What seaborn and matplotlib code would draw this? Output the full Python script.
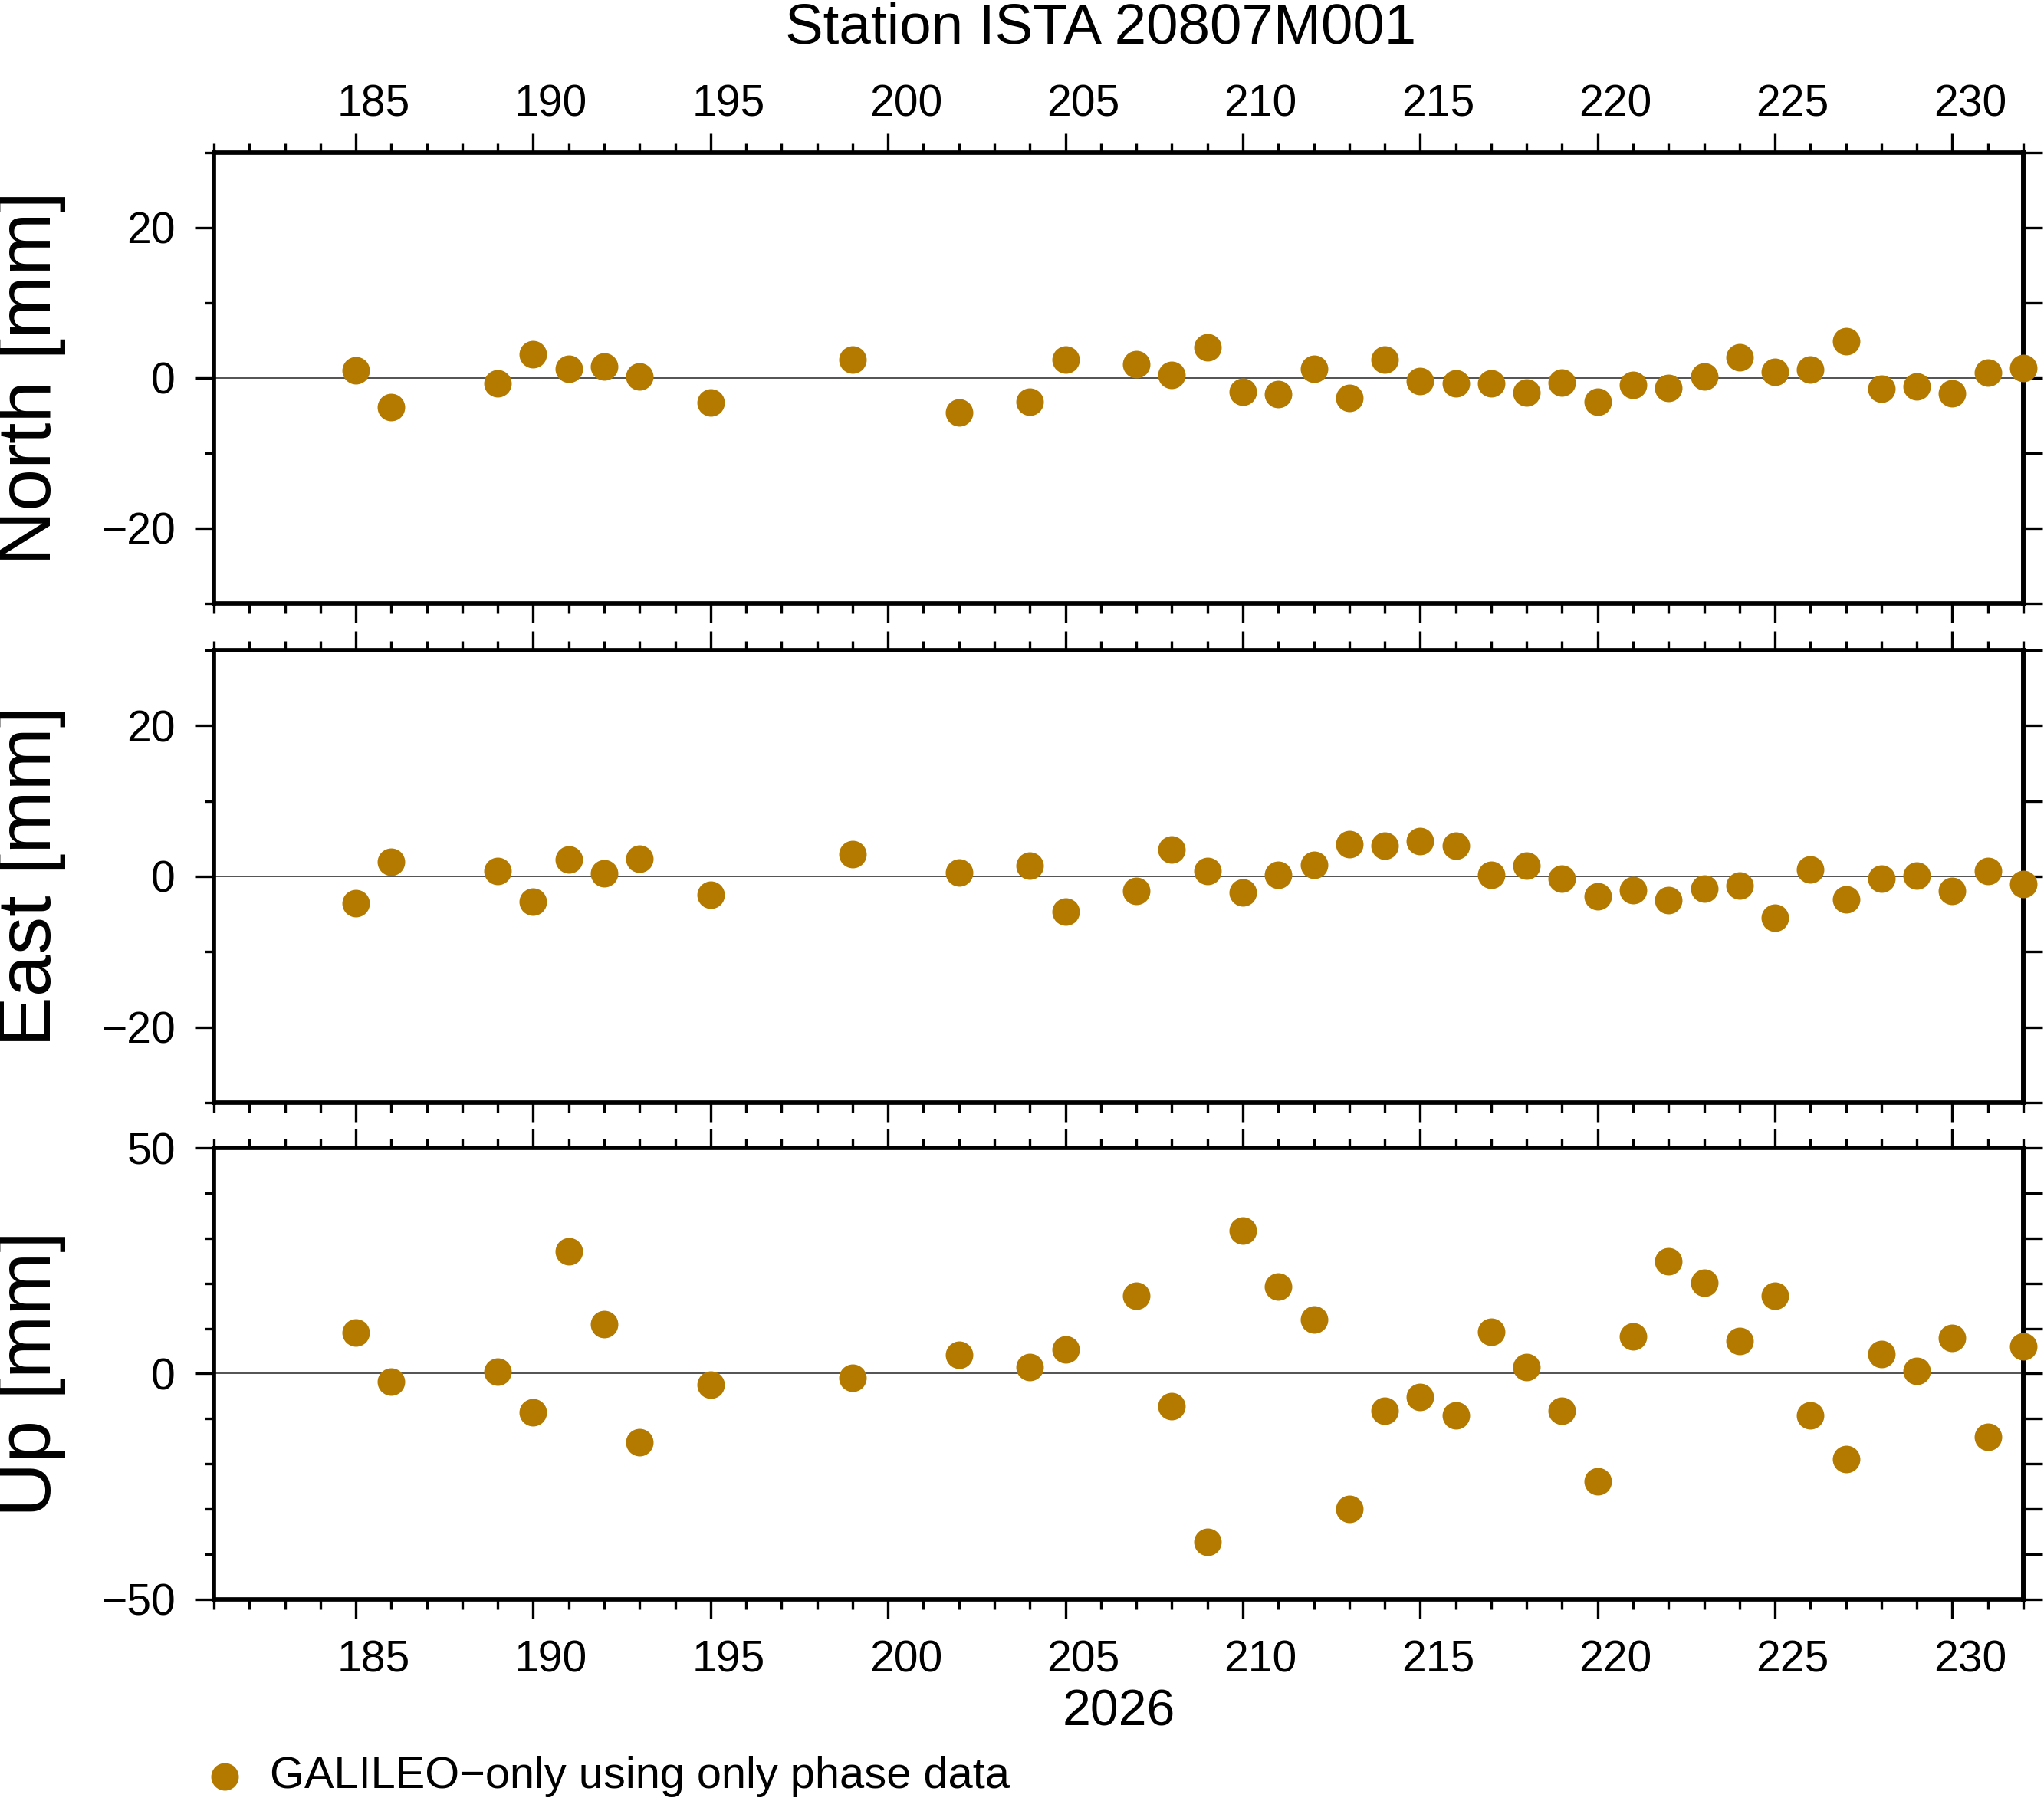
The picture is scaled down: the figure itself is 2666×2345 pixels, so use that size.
import numpy as np
import pandas as pd
import seaborn as sns
import matplotlib.pyplot as plt
from matplotlib.ticker import MultipleLocator, NullLocator


# day of year 2026, residuals in mm
days = [185, 186, 189, 190, 191, 192, 193, 195, 199, 202, 204, 205,
        207, 208, 209, 210, 211, 212, 213, 214, 215, 216, 217, 218, 219,
        220, 221, 222, 223, 224, 225, 226, 227, 228, 229, 230, 231, 232]
north = [1.0, -3.9, -0.7, 3.1, 1.2, 1.5, 0.2, -3.3, 2.4, -4.6, -3.2, 2.4,
         1.8, 0.4, 4.1, -1.85, -2.2, 1.2, -2.65, 2.4, -0.4, -0.7, -0.7, -2.0, -0.6,
         -3.15, -0.9, -1.4, 0.2, 2.7, 0.8, 1.1, 4.9, -1.5, -1.1, -2.1, 0.7, 1.3]
east = [-3.6, 1.9, 0.7, -3.4, 2.2, 0.4, 2.3, -2.4, 2.9, 0.5, 1.4, -4.7,
        -1.9, 3.6, 0.7, -2.15, 0.25, 1.5, 4.3, 4.05, 4.7, 4.05, 0.25, 1.4, -0.35,
        -2.6, -1.85, -3.2, -1.65, -1.2, -5.5, 0.9, -3.0, -0.35, 0.15, -1.95, 0.7, -1.05]
up = [9.1, -1.7, 0.5, -8.5, 27.1, 10.9, -15.2, -2.4, -0.9, 4.1, 1.5, 5.3,
      17.2, -7.3, -37.2, 31.6, 19.2, 11.9, -29.9, -8.2, -5.1, -9.2, 9.2, 1.5, -8.2,
      -23.8, 8.2, 24.8, 20.2, 7.2, 17.2, -9.2, -19.0, 4.3, 0.6, 7.9, -14.0, 6.1]

components = ['North', 'East', 'Up']
ylims = [30, 30, 50]
ymajor = [20, 20, 50]
day_labels = list(range(185, 231, 5))
title = 'Station ISTA 20807M001'
year_label = '2026'
legend_label = 'GALILEO\u2212only using only phase data'
color = '#b47a00'

df = pd.DataFrame({'day': days, 'North': north, 'East': east, 'Up': up})

sns.set_style('ticks')
plt.rcParams['font.family'] = ['Liberation Sans', 'DejaVu Sans']
plt.rcParams['axes.unicode_minus'] = True
for key in ['text.color', 'axes.labelcolor', 'xtick.color', 'ytick.color', 'axes.edgecolor']:
    plt.rcParams[key] = 'black'

fig = plt.figure(figsize=(26.66, 23.45), dpi=100)

left, width = 0.10465, 0.88522
bottoms = [0.66439, 0.38678, 0.11045]
heights = [0.25096, 0.2516, 0.25117]
spine_lw = 4.1
tick_w = 2.4
major_len = 18
minor_len = 9


def shift(x):
    return x - 0.5


def unshift(x):
    return x + 0.5


axes = []
for i, comp in enumerate(components):
    ax = fig.add_axes([left, bottoms[i], width, heights[i]])
    ax.axhline(0, color='#444444', lw=1.3, zorder=1)
    sns.scatterplot(data=df, x='day', y=comp, ax=ax, color=color, s=670,
                    linewidth=0, clip_on=False, zorder=3,
                    label=legend_label if i == 2 else None, legend=False)
    ax.set_xlim(181, 232)
    ax.set_ylim(-ylims[i], ylims[i])
    ax.xaxis.set_major_locator(MultipleLocator(5))
    ax.xaxis.set_minor_locator(MultipleLocator(1))
    ax.yaxis.set_major_locator(MultipleLocator(ymajor[i]))
    ax.yaxis.set_minor_locator(MultipleLocator(10))
    for sp in ax.spines.values():
        sp.set_linewidth(spine_lw)
        sp.set_visible(True)
    ax.tick_params(which='major', length=major_len, width=tick_w, direction='out',
                   labelsize=41, top=True, bottom=True, left=True, right=False)
    ax.tick_params(which='minor', length=minor_len, width=tick_w, direction='out',
                   top=True, bottom=True, left=True, right=False)
    ax.tick_params(axis='y', which='major', pad=18)
    ax.tick_params(axis='x', labeltop=False, labelbottom=False)

    # day annotations sit in the middle of each day interval
    if i in (0, 2):
        where = 'top' if i == 0 else 'bottom'
        secx = ax.secondary_xaxis(where, functions=(shift, unshift))
        secx.set_xticks(day_labels)
        secx.xaxis.set_minor_locator(NullLocator())
        secx.tick_params(length=0, labelsize=41, pad=25 if i == 0 else 38)
        secx.spines[where].set_visible(False)

    # right side ticks, all the same length
    secy = ax.secondary_yaxis('right')
    secy.set_yticks(np.arange(-ylims[i], ylims[i] + 1, 10))
    secy.yaxis.set_minor_locator(NullLocator())
    secy.tick_params(length=major_len, width=tick_w, direction='out', labelright=False)
    secy.spines['right'].set_linewidth(spine_lw)

    ax.set_ylabel(comp + ' [mm]', fontsize=71)
    ax.yaxis.set_label_coords(-0.0818, 0.5)
    ax.set_xlabel('')
    axes.append(ax)

axes[2].set_xlabel(year_label, fontsize=47.5)
axes[2].xaxis.set_label_coords(0.5, -0.197)

fig.text(0.5385, 0.9757, title, fontsize=53.7, ha='center', va='baseline')

handles, labels = axes[2].get_legend_handles_labels()
fig.legend(handles, labels, loc='center left', bbox_to_anchor=(0.1035, 0.0119),
           frameon=False, fontsize=41.6, borderpad=0, borderaxespad=0,
           handlelength=0.6, handletextpad=0.72, scatterpoints=1)

fig.savefig('out.png', dpi=100)
